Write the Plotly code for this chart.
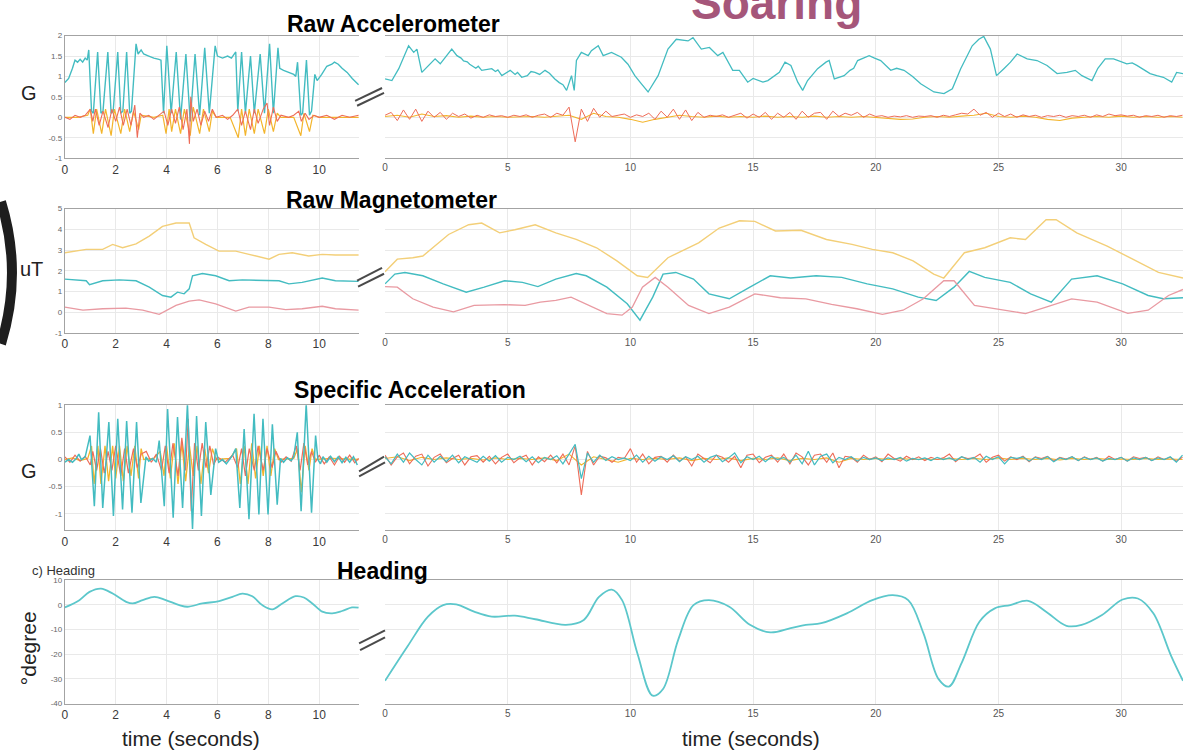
import numpy as np
import plotly.graph_objects as go

W, H = 1183, 756

# ------------------------------------------------------------------
# Raw accelerometer (G) - flapping segment, 0 .. 11.55 s
# ------------------------------------------------------------------
acc_pre_z_t = [0, 0.15, 0.3, 0.4, 0.5, 0.6, 0.7, 0.8, 0.88, 0.94,
               1.05, 1.12, 1.29, 1.42, 1.5, 1.69, 1.82, 1.9, 2.08, 2.2,
               2.28, 2.43, 2.55, 2.62, 2.8, 2.88, 3.0, 3.1, 3.3, 3.5,
               3.7, 3.78, 3.88, 4.01, 4.18, 4.38, 4.55, 4.76, 4.93, 5.12,
               5.3, 5.5, 5.68, 5.91, 6.0, 6.2, 6.4, 6.55, 6.72, 6.8,
               6.95, 7.1, 7.3, 7.45, 7.68, 7.85, 8.05, 8.2, 8.38, 8.45,
               8.6, 8.8, 9.0, 9.08, 9.15, 9.28, 9.35, 9.5, 9.62, 9.7,
               9.83, 9.92, 10.1, 10.3, 10.5, 10.6, 10.75, 10.9, 11.1, 11.3,
               11.55]
acc_pre_z = [0.85, 0.95, 1.2, 1.4, 1.35, 1.42, 1.35, 1.45, 1.4, 1.65,
             0.15, 0.1, 1.6, 0.1, 0.15, 1.6, 0.1, 0.15, 1.6, 0.1,
             0.15, 1.6, 0.1, 0.15, 1.8, 1.55, 1.65, 1.55, 1.5, 1.45,
             1.42, 1.4, 0.1, 1.75, 0.1, 1.6, -0.05, 1.55, -0.1, 1.55,
             0.05, 1.7, 0.1, 1.75, 1.5, 1.45, 1.5, 1.45, 1.6, 0.15,
             1.6, 0.1, 1.5, 0.1, 1.55, 0.1, 1.8, 0.1, 1.7, 1.2,
             1.15, 1.1, 1.05, 1.0, 1.35, 0.05, 0.1, 1.4, 0.05, 0.15,
             1.05, 0.9, 1.05, 1.25, 1.3, 1.35, 1.3, 1.2, 1.1, 0.95,
             0.8]

acc_pre_y_t = [0, 0.5, 0.9, 1.0, 1.12, 1.25, 1.45, 1.6, 1.82, 1.95,
               2.2, 2.35, 2.55, 2.7, 2.9, 3.0, 3.5, 3.85, 3.98, 4.1,
               4.2, 4.35, 4.55, 4.7, 4.93, 5.05, 5.3, 5.45, 5.68, 5.8,
               5.95, 6.5, 6.82, 6.95, 7.1, 7.25, 7.45, 7.6, 7.85, 8.0,
               8.2, 8.35, 8.5, 9.0, 9.28, 9.4, 9.62, 9.75, 10.0, 11.55]
acc_pre_y = [0, 0, 0.05, 0.2, -0.4, 0.2, -0.4, 0.2, -0.45, 0.2,
             -0.4, 0.2, -0.35, 0.15, -0.3, 0.05, 0, 0.05, -0.4, 0.2,
             -0.35, 0.2, -0.4, 0.2, -0.45, 0.25, -0.4, 0.2, -0.35, 0.15,
             0, 0, -0.5, 0.2, -0.45, 0.2, -0.4, 0.2, -0.4, 0.2,
             -0.35, 0.1, 0, 0, -0.45, 0.1, -0.35, 0.05, 0, 0]

acc_pre_x_t = [0, 0.2, 0.4, 0.6, 0.8, 1.0, 1.1, 1.2, 1.35, 1.5,
               1.7, 1.85, 2.0, 2.15, 2.3, 2.45, 2.6, 2.75, 2.85, 2.95,
               3.1, 3.3, 3.5, 3.7, 3.9, 4.05, 4.2, 4.35, 4.5, 4.65,
               4.8, 4.9, 4.95, 5.05, 5.2, 5.35, 5.5, 5.65, 5.8, 5.95,
               6.2, 6.4, 6.6, 6.8, 6.95, 7.1, 7.3, 7.45, 7.6, 7.8,
               7.95, 8.05, 8.2, 8.35, 8.5, 8.8, 9.0, 9.2, 9.3, 9.45,
               9.6, 9.8, 10.0, 10.3, 10.6, 10.9, 11.2, 11.55]
acc_pre_x = [0, -0.05, 0.05, 0, 0.05, 0.2, -0.1, 0.2, -0.2, 0.15,
             -0.25, 0.2, -0.1, 0.25, -0.2, 0.2, -0.2, 0.3, -0.5, 0.1,
             0, 0.05, -0.05, 0.05, 0.15, -0.2, 0.2, -0.15, 0.25, -0.3,
             0.2, -0.65, 0.5, -0.1, 0.2, -0.2, 0.15, -0.1, 0.2, 0,
             0.05, -0.05, 0.05, 0.2, -0.2, 0.15, -0.3, 0.2, -0.15, 0.2,
             0.35, -0.2, 0.25, -0.1, 0.05, 0, 0.05, 0.15, -0.1, 0.1,
             -0.05, 0.05, 0, 0.05, -0.05, 0.05, 0, 0.05]

# ------------------------------------------------------------------
# Raw accelerometer (G) - soaring segment, 0 .. 32.5 s
# ------------------------------------------------------------------
acc_soar_z_t = [0, 0.28, 0.56, 0.96, 1.17, 1.3, 1.5, 1.78, 2.04, 2.25,
                2.72, 2.93, 3.1, 3.2, 3.35, 3.45, 3.54, 3.7, 3.8, 3.94,
                4.35, 4.5, 4.6, 4.76, 5.1, 5.3, 5.4, 5.57, 5.8, 5.95,
                6.11, 6.3, 6.52, 6.7, 6.92, 7.1, 7.25, 7.4, 7.6, 7.71,
                7.8, 8.0, 8.28, 8.41, 8.69, 8.89, 9.23, 9.63, 9.9, 10.18,
                10.45, 10.72, 11.13, 11.53, 11.87, 12.35, 12.55, 12.89, 13.22, 13.56,
                13.77, 14.17, 14.44, 14.78, 15.0, 15.19, 15.4, 15.6, 16.07, 16.3,
                16.54, 16.82, 17.02, 17.22, 17.63, 17.97, 18.1, 18.31, 18.71, 18.95,
                19.1, 19.26, 19.73, 19.95, 20.2, 20.61, 20.85, 21.15, 21.5, 21.83,
                22.37, 22.78, 23.12, 23.46, 23.93, 24.2, 24.4, 24.67, 24.92, 25.22,
                25.49, 25.76, 26.17, 26.57, 26.8, 26.98, 27.39, 27.79, 28.13, 28.4,
                28.81, 29.05, 29.35, 29.69, 30.23, 30.45, 30.64, 31.18, 31.45, 31.72,
                32.06, 32.26, 32.52]
acc_soar_z = [0.94, 0.9, 1.19, 1.75, 1.59, 1.67, 1.1, 1.27, 1.43, 1.31,
              1.67, 1.51, 1.45, 1.38, 1.36, 1.3, 1.27, 1.2, 1.25, 1.15,
              1.19, 1.12, 1.16, 1.02, 1.15, 1.05, 1.1, 0.98, 1.02, 1.12,
              1.1, 1.05, 1.15, 1.08, 0.94, 0.85, 0.8, 0.66, 1.02, 0.66,
              1.39, 1.59, 1.51, 1.63, 1.75, 1.51, 1.59, 1.47, 1.3, 1.02,
              0.82, 0.62, 1.02, 1.67, 1.91, 1.87, 1.95, 1.67, 1.71, 1.51,
              1.59, 1.15, 1.15, 0.86, 0.95, 0.9, 0.86, 0.9, 1.1, 1.35,
              1.27, 0.86, 0.66, 0.9, 1.19, 1.35, 1.39, 0.94, 1.02, 1.15,
              1.2, 1.39, 1.51, 1.45, 1.39, 1.15, 1.2, 1.15, 1.0, 0.82,
              0.62, 0.58, 0.7, 1.19, 1.75, 1.91, 1.98, 1.67, 1.02, 1.19,
              1.35, 1.55, 1.43, 1.39, 1.33, 1.27, 1.07, 1.1, 1.15, 1.02,
              0.9, 1.2, 1.43, 1.43, 1.31, 1.33, 1.27, 1.07, 1.02, 0.98,
              0.86, 1.1, 1.07]

# sampled every 0.25 s
acc_soar_x = [0.05, 0.12, -0.08, 0.18, -0.05, 0.2, -0.1, 0.15, 0.0,
              0.12, -0.05, 0.1, 0.02, 0.08, -0.02, 0.05, 0.0,
              0.06, 0.02, 0.04, 0.0, 0.05, 0.02, 0.06, 0.0,
              0.05, 0.08, 0.0, 0.1, 0.05, 0.25, -0.6, 0.2,
              -0.1, 0.22, 0.0, 0.15, 0.02, 0.05, 0.08, 0.0,
              0.06, 0.02, 0.1, -0.05, 0.15, 0.0, 0.2, -0.05,
              0.18, -0.08, 0.12, 0.0, 0.05, 0.02, 0.06, 0.0,
              0.05, 0.1, -0.02, 0.08, 0.0, 0.12, -0.05, 0.1,
              0.0, 0.12, -0.05, 0.15, 0.0, 0.1, 0.12, -0.05,
              0.15, 0.02, 0.1, 0.05, 0.12, 0.0, 0.08, 0.02,
              0.04, 0.0, 0.03, 0.01, 0.04, 0.0, 0.03, 0.02,
              0.04, 0.0, 0.05, 0.02, 0.06, 0.1, 0.08, 0.2,
              0.05, 0.12, 0.0, 0.1, 0.02, 0.08, 0.0, 0.06,
              0.02, 0.05, 0.0, 0.04, 0.02, 0.05, 0.0, 0.04,
              0.02, 0.05, 0.0, 0.06, 0.02, 0.08, 0.04, 0.06,
              0.03, 0.05, 0.0, 0.04, 0.02, 0.05, 0.0, 0.04,
              0.02, 0.05]
# sampled every 0.5 s
acc_soar_y = [0.02, 0.05, 0.0, 0.08, 0.02,
              0.04, 0.0, 0.03, 0.0, 0.02, 0.0,
              0.01, 0.02, 0.0, 0.03, 0.05, -0.05,
              0.1, 0.02, 0.0, -0.05, -0.12, -0.05,
              0.0, 0.05, 0.02, 0.0, 0.03, 0.0,
              0.02, 0.0, 0.03, 0.0, 0.02, 0.0,
              0.03, 0.0, 0.02, 0.0, 0.02, 0.0,
              -0.02, -0.05, -0.04, 0.0, 0.02, 0.0,
              0.03, 0.05, 0.1, 0.02, 0.0, 0.03,
              0.0, -0.05, -0.08, -0.02, 0.0, 0.02,
              0.0, 0.03, 0.0, 0.02, 0.0, 0.02,
              0.0]

# ------------------------------------------------------------------
# Raw magnetometer (uT)
# ------------------------------------------------------------------
mag_pre_y_t = [0, 0.84, 1.49, 1.88, 2.27, 2.8, 3.32, 3.84, 4.37, 4.89,
               5.08, 5.54, 6.06, 6.72, 7.24, 7.76, 8.03, 8.42, 8.94, 9.59,
               10.12, 10.64, 11.55]
mag_pre_y = [2.87, 3.03, 3.03, 3.27, 3.11, 3.3, 3.67, 4.14, 4.3, 4.3,
             3.59, 3.27, 2.95, 2.95, 2.79, 2.63, 2.56, 2.79, 2.87, 2.71,
             2.79, 2.76, 2.76]
mag_pre_z_t = [0, 0.84, 0.97, 1.49, 2.14, 2.8, 3.32, 3.84, 4.17, 4.43,
               4.69, 4.89, 5.02, 5.41, 5.93, 6.46, 6.98, 7.76, 8.42, 8.81,
               9.33, 10.12, 10.64, 11.55]
mag_pre_z = [1.6, 1.52, 1.33, 1.52, 1.56, 1.52, 1.21, 0.81, 0.73, 0.97,
             0.89, 1.13, 1.76, 1.87, 1.76, 1.52, 1.56, 1.52, 1.52, 1.37,
             1.44, 1.65, 1.52, 1.49]
mag_pre_x_t = [0, 0.71, 1.49, 2.4, 3.06, 3.71, 4.37, 4.89, 5.28, 5.93,
               6.72, 7.24, 8.03, 8.68, 9.33, 10.12, 10.64, 11.55]
mag_pre_x = [0.25, 0.1, 0.17, 0.2, 0.1, -0.1, 0.33, 0.54, 0.6, 0.41,
             0.06, 0.25, 0.25, 0.13, 0.17, 0.29, 0.17, 0.1]

mag_soar_y_t = [0, 0.5, 1.13, 1.54, 2.59, 3.41, 3.94, 4.67, 5.29, 6.12,
                6.96, 7.79, 8.62, 9.45, 10.28, 10.7, 11.53, 12.78, 13.62, 14.45,
                15.07, 15.91, 16.95, 17.99, 19.03, 19.86, 20.69, 21.52, 22.36, 22.77,
                23.61, 24.44, 25.48, 26.1, 26.94, 27.35, 28.19, 29.43, 30.47, 31.52,
                32.52]
mag_soar_y = [1.95, 2.56, 2.63, 2.71, 3.75, 4.22, 4.3, 3.83, 3.98, 4.22,
              3.83, 3.51, 3.11, 2.48, 1.76, 1.68, 2.63, 3.35, 4.06, 4.41,
              4.38, 3.92, 3.95, 3.51, 3.27, 3.03, 2.87, 2.48, 1.84, 1.65,
              2.87, 3.11, 3.59, 3.51, 4.46, 4.46, 3.83, 3.19, 2.56, 1.92,
              1.65]
mag_soar_z_t = [0, 0.4, 0.81, 1.54, 2.37, 3.31, 4.04, 4.87, 5.6, 6.23,
                6.96, 7.79, 8.2, 9.04, 9.87, 10.39, 10.91, 11.33, 11.85, 12.57,
                13.2, 14.03, 14.87, 15.7, 16.53, 17.57, 18.61, 19.65, 20.69, 21.73,
                22.46, 23.19, 23.81, 24.44, 25.48, 26.31, 27.15, 27.98, 29.02, 30.06,
                31.1, 31.72, 32.52]
mag_soar_z = [1.37, 1.84, 1.92, 1.76, 1.37, 0.97, 1.21, 1.52, 1.44, 1.24,
              1.6, 1.87, 1.76, 1.21, 0.41, -0.38, 0.73, 1.84, 1.92, 1.6,
              0.89, 0.65, 1.21, 1.76, 1.65, 1.76, 1.68, 1.37, 1.13, 0.73,
              0.57, 1.21, 1.97, 1.68, 1.44, 0.89, 0.49, 1.6, 1.76, 1.37,
              0.81, 0.65, 0.7]
mag_soar_x_t = [0, 0.5, 1.13, 1.96, 2.79, 3.63, 4.87, 5.71, 6.33, 6.96,
                7.58, 8.2, 9.04, 9.66, 10.08, 10.49, 11.01, 11.53, 12.37, 13.2,
                14.03, 15.07, 16.11, 17.15, 18.2, 19.23, 20.27, 21.11, 21.94, 22.77,
                23.19, 24.02, 24.85, 26.1, 26.94, 27.98, 29.02, 30.27, 31.1, 31.93,
                32.52]
mag_soar_x = [1.24, 1.21, 0.65, 0.25, 0.02, 0.33, 0.37, 0.33, 0.49, 0.57,
              0.73, 0.41, -0.06, -0.14, 0.25, 1.21, 1.68, 1.21, 0.33, -0.06,
              0.25, 0.89, 0.7, 0.65, 0.38, 0.17, -0.1, 0.1, 0.65, 1.52,
              1.52, 0.33, 0.17, -0.06, 0.25, 0.65, 0.49, -0.05, 0.1, 0.81,
              1.1]

# ------------------------------------------------------------------
# Specific acceleration (G)
# ------------------------------------------------------------------
sa_pre_z_t = [0, 0.15, 0.3, 0.45, 0.55, 0.65, 0.8, 0.99, 1.16, 1.33,
              1.49, 1.73, 1.91, 2.08, 2.27, 2.43, 2.64, 2.82, 2.99, 3.19,
              3.3, 3.45, 3.6, 3.71, 3.91, 4.04, 4.26, 4.43, 4.63, 4.82,
              5.02, 5.18, 5.37, 5.54, 5.74, 5.93, 6.05, 6.2, 6.35, 6.5,
              6.6, 6.72, 6.88, 7.05, 7.24, 7.44, 7.63, 7.79, 7.99, 8.16,
              8.35, 8.48, 8.6, 8.75, 8.9, 9.0, 9.14, 9.29, 9.49, 9.7,
              9.86, 9.95, 10.05, 10.15, 10.3, 10.45, 10.6, 10.75, 10.9, 11.05,
              11.2, 11.35, 11.5]
sa_pre_z = [-0.05, 0, -0.05, 0.02, 0.1, 0, 0.05, 0.44, -0.86, 0.87,
            -0.89, 0.69, -1.04, 0.75, -0.92, 0.71, -0.98, 0.69, -0.8, 0.05,
            -0.03, 0.02, -0.05, 0.35, -0.86, 0.93, -1.07, 0.78, -0.89, 1.02,
            -1.28, 0.8, -1.04, 0.69, -0.65, 0.2, -0.05, 0, -0.08, 0.02,
            0.08, 0.2, -0.89, 0.56, -1.1, 0.84, -1.01, 0.75, -1.01, 0.65,
            -0.83, 0.02, -0.05, 0.03, -0.02, 0.05, 0.5, -0.95, 1.02, -0.98,
            0.44, 0, -0.08, 0.05, -0.05, 0.06, -0.04, 0.05, -0.06, 0.04,
            -0.05, 0.05, -0.1]
sa_pre_y_t = [0, 0.3, 0.6, 0.9, 1.05, 1.15, 1.3, 1.42, 1.58, 1.72,
              1.88, 2.0, 2.15, 2.3, 2.45, 2.6, 2.75, 2.9, 3.0, 3.1,
              3.5, 3.75, 3.9, 4.0, 4.15, 4.3, 4.45, 4.6, 4.75, 4.9,
              5.05, 5.2, 5.35, 5.5, 5.65, 5.8, 5.95, 6.5, 6.75, 6.9,
              7.05, 7.2, 7.35, 7.5, 7.65, 7.8, 7.95, 8.1, 8.25, 8.4,
              9.0, 9.15, 9.3, 9.45, 9.6, 9.72, 9.85, 10.5, 11.55]
sa_pre_y = [0, 0.03, -0.02, 0.02, 0.25, -0.45, 0.25, -0.45, 0.25, -0.4,
            0.25, -0.35, 0.25, -0.4, 0.25, -0.3, 0.25, -0.35, 0.2, 0,
            0.02, 0.15, -0.3, 0.25, -0.35, 0.3, -0.45, 0.3, -0.4, 0.25,
            -0.3, 0.25, -0.45, 0.2, -0.25, 0.2, 0, 0.02, 0.2, -0.45,
            0.25, -0.45, 0.3, -0.35, 0.25, -0.3, 0.25, -0.3, 0.2, 0,
            0.02, 0.2, -0.6, 0.25, -0.2, 0.2, 0, 0.02, 0]
sa_pre_x_t = [0, 0.2, 0.4, 0.6, 0.8, 1.0, 1.1, 1.25, 1.4, 1.55,
              1.7, 1.85, 2.0, 2.2, 2.35, 2.5, 2.7, 2.85, 3.0, 3.2,
              3.4, 3.6, 3.8, 3.95, 4.1, 4.25, 4.45, 4.6, 4.75, 4.85,
              4.97, 5.1, 5.25, 5.4, 5.55, 5.7, 5.85, 6.0, 6.3, 6.6,
              6.8, 6.95, 7.1, 7.25, 7.45, 7.6, 7.8, 7.95, 8.15, 8.3,
              8.5, 8.7, 8.9, 9.1, 9.25, 9.4, 9.55, 9.7, 9.85, 10.0,
              10.2, 10.4, 10.6, 10.8, 11.0, 11.2, 11.4, 11.55]
sa_pre_x = [0.05, -0.05, 0.08, -0.03, 0.06, -0.1, 0.15, -0.2, 0.2, -0.25,
            0.15, -0.2, 0.25, -0.3, 0.2, -0.25, 0.2, -0.15, 0.1, 0.15,
            -0.05, 0.1, -0.2, 0.25, -0.25, 0.3, -0.3, 0.4, -0.2, 0.75,
            -0.95, 0.3, -0.2, 0.3, -0.15, 0.25, -0.1, 0.05, -0.05, 0.08,
            -0.15, 0.2, -0.3, 0.2, -0.2, 0.25, -0.2, 0.2, -0.15, 0.15,
            -0.05, 0.05, -0.03, 0.25, -0.2, 0.3, -0.1, 0.15, -0.05, 0.08,
            -0.08, 0.05, -0.1, 0.06, -0.05, 0.08, -0.06, 0.02]

# sampled every 0.25 s
sa_soar_z = [0.05, -0.08, 0.1, -0.05, 0.12, 0.0, -0.1, 0.08, -0.05,
             0.06, -0.04, 0.08, -0.06, 0.05, 0.0, -0.05, 0.06,
             -0.03, 0.07, -0.05, 0.04, 0.0, 0.06, -0.04, 0.05,
             -0.06, 0.04, 0.0, 0.07, -0.08, 0.1, 0.28, -0.35,
             0.12, -0.05, 0.08, -0.02, 0.05, 0.0, 0.03, -0.02,
             0.08, -0.05, 0.06, -0.03, 0.05, 0.0, 0.07, -0.04,
             0.05, 0.0, 0.06, -0.05, 0.04, 0.08, -0.04, 0.03,
             0.12, -0.06, 0.05, 0.0, 0.06, -0.04, 0.05, 0.0,
             0.04, -0.05, 0.08, -0.08, 0.15, -0.1, 0.06, 0.1,
             -0.06, 0.04, 0.0, 0.05, -0.03, 0.04, 0.0, 0.03,
             -0.02, 0.03, 0.0, 0.04, -0.03, 0.02, 0.0, 0.03,
             -0.02, 0.04, 0.0, 0.03, -0.02, 0.05, 0.0, 0.04,
             -0.05, 0.06, 0.0, 0.05, -0.08, 0.04, 0.02, 0.05,
             -0.03, 0.04, 0.0, 0.05, -0.04, 0.03, 0.0, 0.05,
             -0.02, 0.04, 0.0, 0.03, -0.03, 0.02, 0.0, 0.04,
             -0.03, 0.03, 0.0, 0.04, -0.02, 0.03, 0.0, 0.05,
             -0.05, 0.08]
sa_soar_x = [0.08, -0.1, 0.05, 0.12, -0.08, 0.06, 0.1, -0.12, 0.04,
             0.1, -0.06, 0.02, 0.08, -0.1, 0.05, 0.07, -0.05,
             0.06, -0.08, 0.04, 0.1, -0.06, 0.03, 0.08, -0.1,
             0.05, -0.04, 0.08, -0.06, 0.1, -0.1, 0.25, -0.65,
             0.15, -0.1, 0.06, 0.03, -0.05, 0.04, 0.02, 0.2,
             -0.05, 0.1, -0.08, 0.04, 0.06, -0.05, 0.08, -0.03,
             0.05, -0.12, 0.1, 0.02, -0.06, 0.08, 0.04, -0.05,
             0.06, -0.15, 0.08, 0.1, -0.06, 0.04, 0.08, -0.05,
             0.1, -0.08, 0.12, 0.05, -0.1, 0.08, 0.1, -0.05,
             0.12, -0.15, 0.06, 0.04, -0.05, 0.08, 0.0, 0.05,
             -0.04, 0.1, 0.02, -0.03, 0.06, 0.0, 0.05, -0.02,
             0.04, 0.0, 0.03, 0.1, -0.04, 0.05, 0.02, 0.03,
             0.1, -0.05, 0.04, 0.08, -0.03, 0.05, 0.0, 0.06,
             -0.04, 0.05, 0.02, 0.06, -0.03, 0.04, 0.01, 0.05,
             -0.02, 0.05, 0.0, 0.04, -0.03, 0.06, 0.0, 0.04,
             -0.03, 0.05, 0.02, 0.04, -0.02, 0.05, 0.0, 0.04,
             -0.03, 0.04]
# sampled every 0.5 s
sa_soar_y = [0.02, 0.05, -0.02, 0.04, 0.0,
             0.03, 0.0, 0.02, -0.01, 0.03, 0.0,
             0.02, 0.0, 0.03, -0.02, 0.1, -0.1,
             0.05, 0.0, -0.05, 0.02, 0.0, 0.02,
             0.0, 0.03, -0.02, 0.02, 0.0, 0.03,
             -0.02, 0.02, 0.0, 0.03, -0.02, 0.02,
             0.0, 0.03, -0.05, 0.02, 0.0, 0.02,
             0.0, 0.02, 0.0, 0.01, 0.0, 0.02,
             0.0, 0.02, 0.0, 0.03, 0.0, 0.02,
             0.0, 0.02, -0.01, 0.02, 0.0, 0.02,
             0.0, 0.01, 0.0, 0.02, 0.0, 0.01,
             0.0]

# ------------------------------------------------------------------
# Heading (degrees)
# ------------------------------------------------------------------
head_pre_t = [0, 0.57, 0.97, 1.42, 1.88, 2.41, 2.67, 3.06, 3.52, 3.97,
              4.5, 4.82, 5.41, 6.07, 6.59, 6.98, 7.37, 7.76, 8.16, 8.55,
              9.07, 9.4, 9.73, 10.12, 10.51, 10.9, 11.29, 11.55]
head_pre = [-1.07, 1.87, 5.2, 6.53, 4.53, 1.2, 0.53, 1.87, 3.2, 1.87,
            -0.13, -0.8, 0.53, 1.47, 3.2, 4.53, 3.47, -0.13, -1.87, 0.53,
            3.47, 2.93, 0.53, -2.8, -3.47, -2.53, -1.07, -1.2]
head_soar_t = [0, 0.92, 1.75, 2.37, 2.9, 3.63, 4.35, 5.29, 6.12, 7.37,
               8.1, 8.72, 9.24, 9.66, 10.28, 10.91, 11.33, 11.95, 12.57, 13.2,
               14.03, 14.87, 15.7, 16.53, 17.15, 17.78, 18.82, 19.86, 20.69, 21.32,
               21.94, 22.56, 22.98, 23.5, 24.23, 24.85, 25.48, 26.21, 26.94, 27.77,
               28.39, 29.22, 30.06, 30.68, 31.31, 32.04, 32.52]
head_soar = [-30.8, -16.8, -4.8, -0.13, 0.13, -2.8, -4.8, -4.4, -5.87, -8.13,
             -6.13, 3.2, 6.13, 1.87, -19.5, -36.8, -34.1, -14.1, -0.13, 1.87,
             -0.8, -8.13, -11.2, -9.47, -8.13, -7.47, -3.47, 1.87, 3.87, 1.87,
             -11.5, -30.1, -33.1, -23.5, -6.8, -1.47, -0.13, 1.6, -2.8, -8.53,
             -8.13, -4.13, 2.13, 2.53, -3.47, -20.8, -30.8]

# regular sample grids of the soaring recordings
t_q = np.round(np.arange(len(acc_soar_x)) * 0.25, 2)
t_h = np.round(np.arange(len(acc_soar_y)) * 0.5, 2)

# ------------------------------------------------------------------
CYAN = "#43bcc1"
YEL = "#f3b52c"
RED = "#ee6c58"
MAG_Y = "#f3cf78"
MAG_X = "#e99aa2"
HEAD = "#5cc7cb"
FONT = "Liberation Sans, Arial, sans-serif"

fig = go.Figure()


def sfx(k):
    return "" if k == 1 else str(k)


def line(k, x, y, color, width=1.2, shape="linear"):
    fig.add_trace(go.Scatter(
        x=x, y=y, mode="lines", xaxis="x" + sfx(k), yaxis="y" + sfx(k),
        line=dict(color=color, width=width, shape=shape),
        hoverinfo="skip", showlegend=False))


# panel 1 : raw accelerometer
line(1, acc_pre_z_t, acc_pre_z, CYAN, 1.4)
line(1, acc_pre_y_t, acc_pre_y, YEL, 1.2)
line(1, acc_pre_x_t, acc_pre_x, RED, 1.1)
line(2, acc_soar_z_t, acc_soar_z, CYAN, 1.3)
line(2, t_h, acc_soar_y, YEL, 1.1)
line(2, t_q, acc_soar_x, RED, 1.0)

# panel 2 : raw magnetometer
line(3, mag_pre_y_t, mag_pre_y, MAG_Y, 1.4)
line(3, mag_pre_z_t, mag_pre_z, CYAN, 1.4)
line(3, mag_pre_x_t, mag_pre_x, MAG_X, 1.3)
line(4, mag_soar_y_t, mag_soar_y, MAG_Y, 1.4)
line(4, mag_soar_z_t, mag_soar_z, CYAN, 1.4)
line(4, mag_soar_x_t, mag_soar_x, MAG_X, 1.3)

# panel 3 : specific acceleration
line(5, sa_pre_y_t, sa_pre_y, YEL, 1.3)
line(5, sa_pre_x_t, sa_pre_x, RED, 1.2)
line(5, sa_pre_z_t, sa_pre_z, CYAN, 1.5)
line(6, t_h, sa_soar_y, YEL, 1.1)
line(6, t_q, sa_soar_x, RED, 1.1)
line(6, t_q, sa_soar_z, CYAN, 1.2)

# panel 4 : heading
line(7, head_pre_t, head_pre, HEAD, 1.8, "spline")
line(8, head_soar_t, head_soar, HEAD, 1.8, "spline")

# ------------------------------------------------------------------
# axes
# ------------------------------------------------------------------
panel_px = [(32, 156), (207, 333), (406, 532.5), (583, 708)]
panel_yrange = [[-1, 2], [-1, 5], [-1.3, 1], [-40, 10]]
panel_yticks = [[-1, -0.5, 0, 0.5, 1, 1.5, 2],
                [-1, 0, 1, 2, 3, 4, 5],
                [-1, -0.5, 0, 0.5, 1],
                [-40, -30, -20, -10, 0, 10]]
left_xticks = [0, 2, 4, 6, 8, 10]
right_xticks = [0, 5, 10, 15, 20, 25, 30]

GRID = "#e9e9e9"
AXLINE = "#a3a3a3"
layout = dict(width=W, height=H, margin=dict(l=0, r=0, t=0, b=0),
              paper_bgcolor="white", plot_bgcolor="white",
              showlegend=False, hovermode=False, font=dict(family=FONT))

for p in range(4):
    top, bot = panel_px[p]
    ydom = [1 - bot / H, 1 - top / H]
    ticktext = [str(v) for v in panel_yticks[p]]
    for side in range(2):
        k = 2 * p + side + 1
        if side == 0:
            xd, xr, xt = [62 / W, 357 / W], [0, 11.57], left_xticks
            xfont = dict(size=12, color="#3a3a3a", family=FONT)
        else:
            xd, xr, xt = [383 / W, 1.0], [0, 32.52], right_xticks
            xfont = dict(size=10, color="#555555", family=FONT)
        layout["xaxis" + sfx(k)] = dict(
            domain=xd, range=xr, anchor="y" + sfx(k),
            tickvals=xt, ticktext=[str(v) for v in xt], tickfont=xfont,
            showgrid=True, gridcolor=GRID, gridwidth=1, zeroline=False,
            showline=True, linecolor=AXLINE, linewidth=1, mirror=True,
            ticks="", fixedrange=True)
        layout["yaxis" + sfx(k)] = dict(
            domain=ydom, range=panel_yrange[p], anchor="x" + sfx(k),
            tickvals=panel_yticks[p], ticktext=ticktext,
            showticklabels=(side == 0),
            tickfont=dict(size=8, color="#666666", family=FONT),
            showgrid=True, gridcolor=GRID, gridwidth=1, zeroline=False,
            showline=(side == 0), linecolor=AXLINE, linewidth=1,
            ticks="", fixedrange=True)

fig.update_layout(**layout)


# ------------------------------------------------------------------
# text
# ------------------------------------------------------------------
def text(px, py, s, size, color="#111111", bold=False, angle=0):
    fig.add_annotation(
        x=px / W, y=1 - py / H, xref="paper", yref="paper",
        text=f"<b>{s}</b>" if bold else s, showarrow=False,
        xanchor="center", yanchor="middle", textangle=angle,
        font=dict(size=size, color=color, family=FONT))


text(775, -1, "Soaring", 46, "#a5567a", bold=True)
text(391, 20, "Raw Accelerometer", 23, "#000000", bold=True)
text(389, 198, "Raw Magnetometer", 23, "#000000", bold=True)
text(408, 391, "Specific Acceleration", 23, "#000000", bold=True)
text(380, 574, "Heading", 23, "#000000", bold=True)

text(26, 90, "G", 20, "#222222")
text(29, 268, "uT", 20, "#222222")
text(26, 473, "G", 20, "#222222")
text(25, 652, "°degree", 21, "#222222", angle=-90)
text(61, 573, "c) Heading", 13, "#333333")
text(188, 743, "time (seconds)", 21, "#222222")
text(750, 743, "time (seconds)", 21, "#222222")

# ------------------------------------------------------------------
# axis-break marks between the two time segments, and the dark ring
# ------------------------------------------------------------------
breaks = [((353, 98), (380, 85)), ((355, 103), (382, 90)),
          ((355, 280), (380, 267)), ((356, 286), (382, 273)),
          ((357, 473), (382, 458)), ((357, 478), (383, 464)),
          ((357, 647), (383, 634)), ((358, 654), (383, 641))]
for (x0, y0), (x1, y1) in breaks:
    fig.add_shape(type="line", xref="paper", yref="paper",
                  x0=x0 / W, y0=1 - y0 / H, x1=x1 / W, y1=1 - y1 / H,
                  line=dict(color="#4a4a4a", width=2))


def pp(px, py):
    return f"{px / W:.5f},{1 - py / H:.5f}"


ring = f"M {pp(-2, 200)} Q {pp(20, 272)} {pp(-2, 344)}"
fig.add_shape(type="path", xref="paper", yref="paper", path=ring,
              line=dict(color="#1e1e1e", width=10))

fig.write_html("out.html")
